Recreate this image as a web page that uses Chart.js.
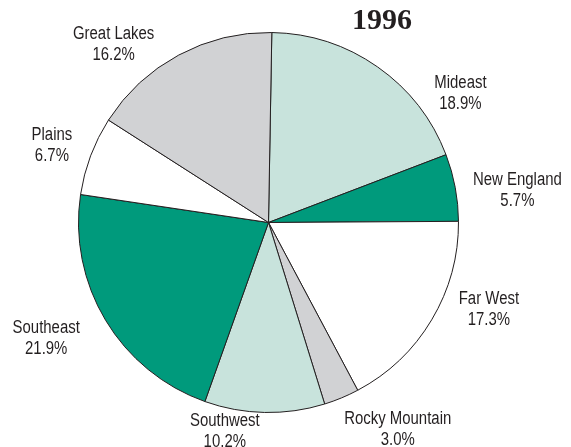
<!DOCTYPE html>
<html>
<head>
<meta charset="utf-8">
<script src="https://cdn.jsdelivr.net/npm/chart.js@4.4.0/dist/chart.umd.min.js"></script>
<style>
  html, body { margin: 0; padding: 0; background: #fff; }
  #wrap { position: relative; width: 571px; height: 447px; }
</style>
</head>
<body>
<div id="wrap"><canvas id="pieChart" width="571" height="447"></canvas></div>
<script>
const regions = ["Mideast", "New England", "Far West", "Rocky Mountain", "Southwest", "Southeast", "Plains", "Great Lakes"];
const shares = [18.9, 5.7, 17.3, 3.0, 10.2, 21.9, 6.7, 16.2];
const yearTitle = "1996";

/* slice fills, same order as regions */
const fills = ["#c8e3dc", "#009a7c", "#ffffff", "#d1d2d4", "#c8e3dc", "#009a7c", "#ffffff", "#d1d2d4"];

/* label anchor, in radius units from pie centre */
const labelSpots = [
    [1.01, -0.68], [1.31, -0.17], [1.16, 0.455], [0.68, 1.085],
    [-0.23, 1.095], [-1.17, 0.61], [-1.14, -0.41], [-0.815, -0.94]
];

/* ================= LABEL PLUGIN ================= */
const pieLabels = {
    id: "pieLabels",
    afterDraw(chart) {
        const ctx = chart.ctx;
        const arc = chart.getDatasetMeta(0).data[0];
        const cx = arc.x, cy = arc.y, r = arc.outerRadius;
        ctx.save();
        ctx.fillStyle = "#231f20";
        ctx.font = "18px 'Liberation Sans', Arial, sans-serif";
        ctx.textAlign = "center";
        ctx.textBaseline = "middle";
        regions.forEach((name, i) => {
            const x = cx + labelSpots[i][0] * r;
            const y = cy + labelSpots[i][1] * r;
            ctx.save();
            ctx.translate(x, y);
            ctx.scale(0.83, 1);  // condensed look
            ctx.fillText(name, 0, -10);
            ctx.fillText(shares[i].toFixed(1) + "%", 0, 11);
            ctx.restore();
        });
        ctx.font = "bold 30px 'Liberation Serif', 'Times New Roman', serif";
        ctx.fillText(yearTitle, 382, 21);
        ctx.restore();
    }
};

/* ================= PIE CHART ================= */
const ctx = document.getElementById("pieChart").getContext("2d");
new Chart(ctx, {
    type: "pie",
    data: {
        labels: regions,
        datasets: [{
            data: shares,
            backgroundColor: fills,
            borderColor: "#231f20",
            borderWidth: 1
        }]
    },
    options: {
        responsive: false,
        animation: false,
        rotation: 1,
        layout: {
            padding: { top: 32, bottom: 34, left: 78, right: 112 }
        },
        plugins: {
            legend: { display: false },
            tooltip: { enabled: false }
        }
    },
    plugins: [pieLabels]
});
</script>
</body>
</html>
